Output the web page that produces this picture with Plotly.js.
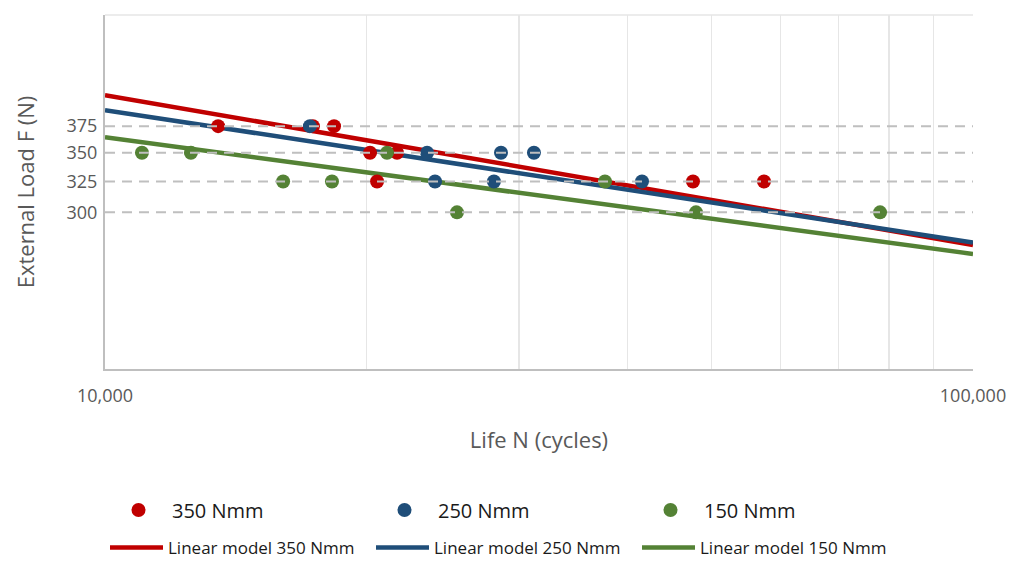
<!DOCTYPE html>
<html>
<head>
<meta charset="utf-8">
<script src="https://cdn.plot.ly/plotly-3.0.1.min.js"></script>
<style>html,body{margin:0;padding:0;background:#fff;}#chart{width:1010px;height:563px;}</style>
</head>
<body>
<div id="chart"></div>
<script>
// Data
const seriesNames = ["350 Nmm", "250 Nmm", "150 Nmm"];
const modelNames = ["Linear model 350 Nmm", "Linear model 250 Nmm", "Linear model 150 Nmm"];

const life350 = [13500, 17360, 18360, 20200, 21700, 20580, 47580, 57440];
const load350 = [375, 375, 375, 350, 350, 325, 325, 325];

const life250 = [17220, 23500, 28590, 31200, 24000, 28060, 41560];
const load250 = [375, 350, 350, 350, 325, 325, 325];

const life150 = [11030, 12560, 21130, 16040, 18260, 37670, 25440, 47960, 78150];
const load150 = [350, 350, 350, 325, 325, 325, 300, 300, 300];

const modelLife = [10000, 100000];
const model350 = [406.3, 275.7];
const model250 = [390.9, 277.5];
const model150 = [364.5, 269.4];

const xTickVals = [10000, 20000, 30000, 40000, 50000, 60000, 70000, 80000, 90000, 100000];
const xTickText = ["10,000", "", "", "", "", "", "", "", "", "100,000"];
const yTickVals = [300, 325, 350, 375];
const yTickText = ["300", "325", "350", "375"];

const colors = ["#C00000", "#1F4E79", "#548235"];
const font = "Open Sans, Liberation Sans, sans-serif";

const lifeSets = [life350, life250, life150];
const loadSets = [load350, load250, load150];
const modelSets = [model350, model250, model150];

const lineTraces = modelSets.map((m, i) => ({
  type: "scatter", mode: "lines", x: modelLife, y: m, name: modelNames[i],
  line: {color: colors[i], width: 4.5}, legend: "legend2", hoverinfo: "skip"
}));
const pointTraces = lifeSets.map((l, i) => ({
  type: "scatter", mode: "markers", x: l, y: loadSets[i], name: seriesNames[i],
  marker: {color: colors[i], size: 14}, legend: "legend", cliponaxis: false
}));

const dashShapes = yTickVals.map(v => ({
  type: "line", xref: "paper", x0: 0, x1: 1, yref: "y", y0: v, y1: v,
  line: {color: "#bfbfbf", width: 2, dash: "10px,7px"}, layer: "above"
}));
const borderShapes = [
  {type: "line", xref: "paper", yref: "paper", x0: 0, x1: 1, y0: 1, y1: 1,
   line: {color: "#e6e6e6", width: 1.5}, layer: "below"}
];

const layout = {
  width: 1010, height: 563,
  margin: {l: 105, r: 37, t: 15, b: 194},
  paper_bgcolor: "#fff", plot_bgcolor: "#fff",
  font: {family: font, color: "#595959"},
  showlegend: true,
  xaxis: {
    type: "log", range: [4, 5],
    tickvals: xTickVals, ticktext: xTickText,
    showgrid: true, gridcolor: "#e6e6e6", gridwidth: 1.5,
    showline: true, linecolor: "#bfbfbf", linewidth: 2,
    ticks: "", ticklabelstandoff: 9,
    tickfont: {size: 18, color: "#595959", family: font},
    zeroline: false,
    title: {text: "Life N (cycles)", font: {size: 22, color: "#595959", family: font}, standoff: 27}
  },
  yaxis: {
    type: "log", range: [Math.log10(200), Math.log10(500)],
    tickvals: yTickVals, ticktext: yTickText,
    showgrid: false,
    showline: true, linecolor: "#bfbfbf", linewidth: 2,
    ticks: "", ticklabelstandoff: 2,
    tickfont: {size: 18, color: "#595959", family: font},
    zeroline: false,
    title: {text: "External Load F (N)", font: {size: 22, color: "#595959", family: font}, standoff: 26}
  },
  shapes: borderShapes.concat(dashShapes),
  legend: {
    orientation: "h", xref: "container", yref: "container",
    x: 105 / 1010, xanchor: "left", y: 1 - 510 / 563, yanchor: "middle",
    itemwidth: 57, entrywidth: 194, entrywidthmode: "pixels",
    font: {size: 20, color: "#1a1a1a", family: font}, bgcolor: "rgba(0,0,0,0)"
  },
  legend2: {
    orientation: "h", xref: "container", yref: "container",
    x: 105 / 1010, xanchor: "left", y: 1 - 548 / 563, yanchor: "middle",
    itemwidth: 53, entrywidth: 198, entrywidthmode: "pixels",
    font: {size: 17, color: "#1a1a1a", family: font}, bgcolor: "rgba(0,0,0,0)"
  }
};

Plotly.newPlot("chart", lineTraces.concat(pointTraces), layout, {displayModeBar: false, staticPlot: true});
</script>
</body>
</html>
